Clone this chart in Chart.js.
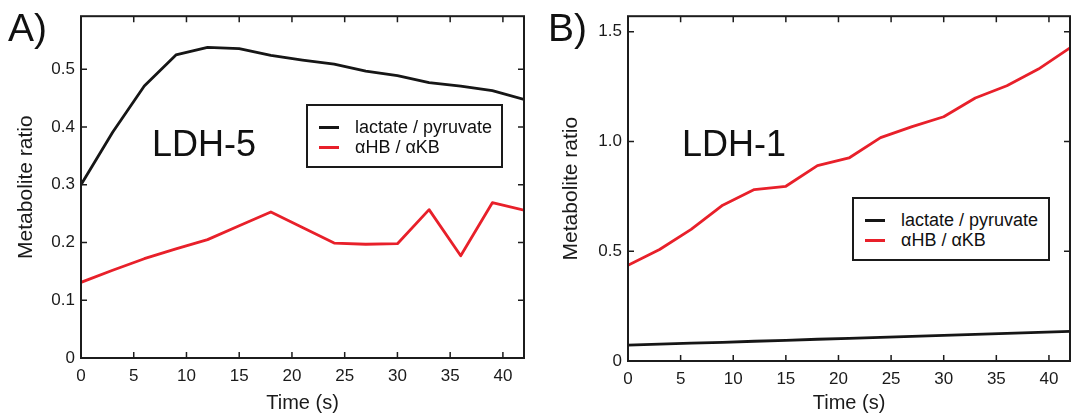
<!DOCTYPE html>
<html>
<head>
<meta charset="utf-8">
<script src="https://cdn.jsdelivr.net/npm/chart.js@4"></script>
<style>
    body { margin: 0; background: #fff; font-family: "Liberation Sans", Arial, sans-serif; }
    #page { position: relative; width: 1074px; height: 420px; overflow: hidden; }
    .panel { position: absolute; top: 0; height: 420px; }
    .tag { position: absolute; font-size: 36px; color: #111; line-height: 1; }
    .legend { position: absolute; border: 2px solid #1a1a1a; box-sizing: border-box; background: #fff; font-size: 18px; color: #111; }
    .legend div { position: absolute; left: 0; height: 20px; line-height: 20px; white-space: nowrap; }
    .legend span.swatch { position: absolute; left: 11px; top: 9px; width: 20px; height: 3px; }
    .legend span.txt { position: absolute; left: 47px; top: 0; }
</style>
</head>
<body>
<div id="page">
    <div class="panel" style="left:0;width:540px"><canvas id="chartA"></canvas></div>
    <div class="panel" style="left:540px;width:534px"><canvas id="chartB"></canvas></div>
    <div class="tag" style="left:8px;top:8px;font-size:39px">A)</div>
    <div class="tag" style="left:548px;top:8px;font-size:39px">B)</div>
    <div class="tag" style="left:152px;top:126px">LDH-5</div>
    <div class="tag" style="left:682px;top:126px">LDH-1</div>
    <div class="legend" id="legendA" style="left:306px;top:104px;width:197px;height:64px"></div>
    <div class="legend" id="legendB" style="left:852px;top:197px;width:198px;height:64px"></div>
</div>
<script>
// time points (s)
const time = [0, 3, 6, 9, 12, 15, 18, 21, 24, 27, 30, 33, 36, 39, 42];

// LDH-5 panel
const ldh5Lactate = [0.300, 0.391, 0.471, 0.525, 0.538, 0.536, 0.524, 0.516, 0.509, 0.497, 0.489, 0.477, 0.471, 0.463, 0.448];
const ldh5Hb = [0.131, 0.152, 0.172, 0.189, 0.205, 0.229, 0.253, 0.226, 0.199, 0.197, 0.198, 0.257, 0.177, 0.269, 0.256];

// LDH-1 panel
const ldh1Lactate = [0.072, 0.077, 0.081, 0.085, 0.090, 0.094, 0.099, 0.103, 0.108, 0.112, 0.117, 0.121, 0.126, 0.130, 0.135];
const ldh1Hb = [0.436, 0.508, 0.600, 0.710, 0.781, 0.796, 0.890, 0.925, 1.018, 1.068, 1.113, 1.198, 1.254, 1.330, 1.427];

// tick values
const xTicks = [0, 5, 10, 15, 20, 25, 30, 35, 40];
const yTicksA = [0, 0.1, 0.2, 0.3, 0.4, 0.5];
const yTicksB = [0, 0.5, 1.0, 1.5];

const seriesLabels = ["lactate / pyruvate", "\u03b1HB / \u03b1KB"];
const seriesColors = ["#161616", "#e8202a"];

const xMax = 42;

const frameColor = "#1c1c1c";
const textColor = "#1a1a1a";

// frame on all four sides with inward ticks, matlab style
const framePlugin = {
    id: "frame",
    afterDatasetsDraw(chart) {
        const { ctx, chartArea: a, scales } = chart;
        const len = 6;
        ctx.save();
        ctx.strokeStyle = frameColor;
        ctx.lineWidth = 2;
        ctx.strokeRect(a.left, a.top, a.right - a.left, a.bottom - a.top);
        ctx.lineWidth = 1.5;
        ctx.beginPath();
        scales.x.ticks.forEach((t) => {
            const px = scales.x.getPixelForValue(t.value);
            ctx.moveTo(px, a.bottom); ctx.lineTo(px, a.bottom - len);
            ctx.moveTo(px, a.top); ctx.lineTo(px, a.top + len);
        });
        scales.y.ticks.forEach((t) => {
            const py = scales.y.getPixelForValue(t.value);
            ctx.moveTo(a.left, py); ctx.lineTo(a.left + len, py);
            ctx.moveTo(a.right, py); ctx.lineTo(a.right - len, py);
        });
        ctx.stroke();
        ctx.restore();
    },
};

function makeChart(canvasId, lactate, hb, cfg) {
    const ctx = document.getElementById(canvasId).getContext("2d");
    return new Chart(ctx, {
        type: "line",
        data: {
            labels: time,
            datasets: [
                { label: seriesLabels[0], data: lactate, borderColor: seriesColors[0], borderWidth: 2.8 },
                { label: seriesLabels[1], data: hb, borderColor: seriesColors[1], borderWidth: 2.8 },
            ],
        },
        options: {
            responsive: true,
            maintainAspectRatio: false,
            animation: false,
            events: [],
            elements: { point: { radius: 0 }, line: { tension: 0, borderJoinStyle: "round" } },
            layout: { padding: { top: cfg.padTop, right: cfg.padRight, left: 0, bottom: 0 } },
            plugins: { legend: { display: false }, tooltip: { enabled: false } },
            scales: {
                x: {
                    type: "linear",
                    min: 0,
                    max: xMax,
                    grid: { display: false, drawTicks: false, tickLength: 0 },
                    border: { display: false },
                    ticks: {
                        padding: 8,
                        color: textColor,
                        font: { family: "Liberation Sans", size: 17 },
                        maxRotation: 0,
                        autoSkip: false,
                    },
                    afterBuildTicks: (scale) => {
                        scale.ticks = xTicks.map((v) => ({ value: v }));
                    },
                    afterFit: (scale) => { scale.height = cfg.xAxisHeight; },
                    title: {
                        display: true,
                        text: "Time (s)",
                        color: textColor,
                        font: { family: "Liberation Sans", size: 20 },
                        padding: { top: 0, bottom: 5 },
                    },
                },
                y: {
                    min: 0,
                    max: cfg.yMax,
                    grid: { display: false, drawTicks: false, tickLength: 0 },
                    border: { display: false },
                    ticks: {
                        padding: 6,
                        color: textColor,
                        autoSkip: false,
                        font: { family: "Liberation Sans", size: 17 },
                        callback: (v) => (v === 0 ? "0" : v.toFixed(1)),
                    },
                    afterBuildTicks: (scale) => {
                        scale.ticks = cfg.yTicks.map((v) => ({ value: v }));
                    },
                    afterFit: (scale) => { scale.width = cfg.yAxisWidth; },
                    title: {
                        display: true,
                        text: "Metabolite ratio",
                        color: textColor,
                        font: { family: "Liberation Sans", size: 21 },
                        padding: { top: cfg.yTitlePad, bottom: 0 },
                    },
                },
            },
        },
        plugins: [framePlugin],
    });
}

function buildLegend(el, chart) {
    chart.data.datasets.forEach((ds, i) => {
        const row = document.createElement("div");
        row.style.top = (11 + i * 20) + "px";
        row.style.width = "100%";
        const sw = document.createElement("span");
        sw.className = "swatch";
        sw.style.background = ds.borderColor;
        const tx = document.createElement("span");
        tx.className = "txt";
        tx.textContent = ds.label;
        row.appendChild(sw);
        row.appendChild(tx);
        el.appendChild(row);
    });
}

const chartA = makeChart("chartA", ldh5Lactate, ldh5Hb, {
    yMax: 0.592, yTicks: yTicksA, padTop: 10, padRight: 16, yAxisWidth: 81, xAxisHeight: 62, yTitlePad: 14,
});
const chartB = makeChart("chartB", ldh1Lactate, ldh1Hb, {
    yMax: 1.571, yTicks: yTicksB, padTop: 12, padRight: 4, yAxisWidth: 88, xAxisHeight: 59, yTitlePad: 19,
});

buildLegend(document.getElementById("legendA"), chartA);
buildLegend(document.getElementById("legendB"), chartB);
</script>
</body>
</html>
